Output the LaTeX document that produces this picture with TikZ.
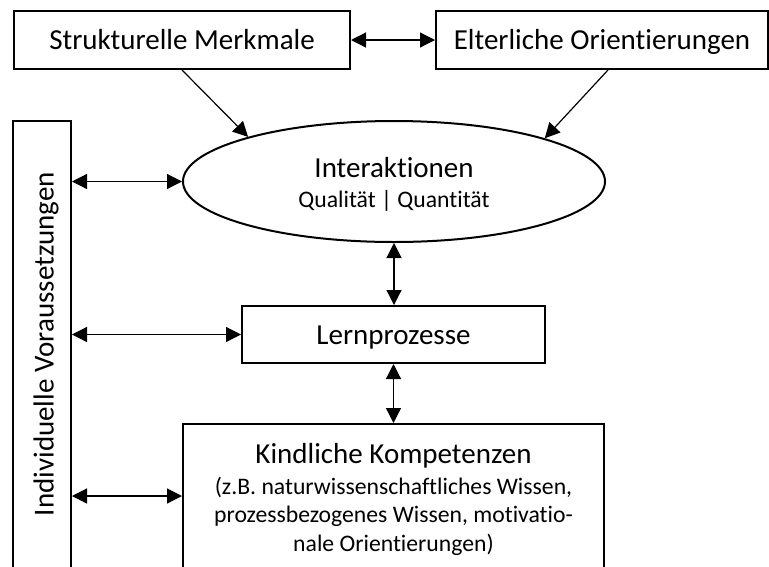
\documentclass[tikz,border=0pt]{standalone}
\usepackage{fontspec}
\setmainfont{Carlito}[Ligatures=NoCommon]
\usetikzlibrary{arrows.meta,shapes.geometric}
\newcommand\fntL{\fontsize{29}{34}\selectfont}
\newcommand\fntS{\fontsize{23.7}{28.5}\selectfont}
\begin{document}
\begin{tikzpicture}[x=1pt,y=-1pt,
  box/.style={draw, line width=2pt, rectangle, inner sep=0pt, font=\fntL, text height=19pt, text depth=0pt},
  frame/.style={draw, line width=2pt, inner sep=0pt},
  tip/.tip={Triangle[length=15pt,width=15pt]},
  link/.style={line width=1.2pt, tip-tip},
  oneway/.style={line width=1.2pt, -tip}]
\clip (0,0) rectangle (769,566);
\node[box, minimum width=336pt, minimum height=58pt] (sm) at (182,40) {Strukturelle Merkmale};
\node[box, minimum width=332pt, minimum height=58pt] (eo) at (602,40) {Elterliche Orientierungen};
\node[frame, ellipse, minimum width=422pt, minimum height=121pt] (in) at (394,181.5) {};
\node[font=\fntS, align=center, anchor=base, inner sep=0pt] (intext) at (394,207) {{\fntL Interaktionen}\\[1.5pt]Qualität | Quantität};
\node[box, minimum width=303pt, minimum height=57pt] (lp) at (393.5,334.5) {Lernprozesse};
\node[frame, rectangle, minimum width=421pt, minimum height=144pt] (kk) at (393.5,496) {};
\node[font=\fntS, align=center, anchor=base, inner sep=0pt] (kktext) at (393.5,551) {{\fntL Kindliche Kompetenzen}\\[2.5pt](z.B. naturwissenschaftliches Wissen,\\prozessbezogenes Wissen, motivatio-\\nale Orientierungen)};
\node[frame, rectangle, minimum width=58pt, minimum height=447pt] (iv) at (42,344.5) {};
\node[rotate=90, font=\fntL, text height=19pt, text depth=0pt, inner sep=0pt] (ivtext) at (44,344) {Individuelle Voraussetzungen};
\draw[link] (sm.east) -- (eo.west);
\draw[oneway] (sm.south) -- (in.163.8);
\draw[oneway] ([xshift=6pt]eo.south) -- (in.16.5);
\draw[link] (iv.east |- in.west) -- (in.west);
\draw[link] (iv.east |- lp.west) -- (lp.west);
\draw[link] (iv.east |- kk.west) -- (kk.west);
\draw[link] (in.south) -- (in.south |- lp.north);
\draw[link] (lp.south) -- (lp.south |- kk.north);
\end{tikzpicture}
\end{document}
